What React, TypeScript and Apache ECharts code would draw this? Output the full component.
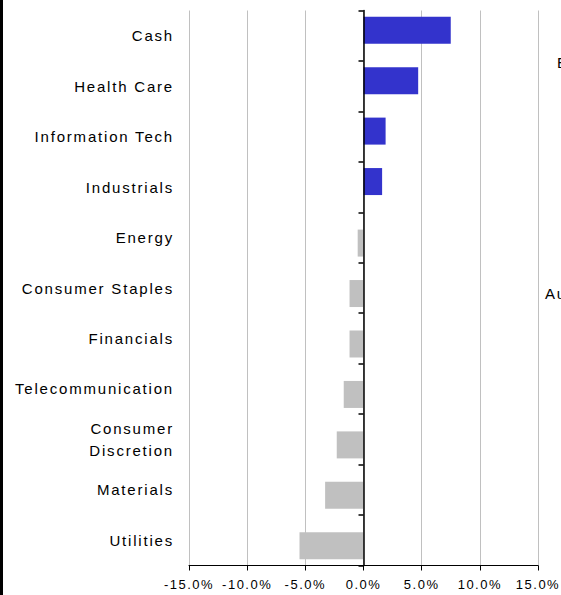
import React, { useEffect, useRef } from "react";
import * as echarts from "echarts";

const categories = [
  "Cash",
  "Health Care",
  "Information Tech",
  "Industrials",
  "Energy",
  "Consumer Staples",
  "Financials",
  "Telecommunication",
  "Consumer\nDiscretion",
  "Materials",
  "Utilities",
];
const overweight = [7.5, 4.7, 1.9, 1.6, null, null, null, null, null, null, null];
const underweight = [null, null, null, null, -0.5, -1.2, -1.2, -1.7, -2.3, -3.3, -5.5];
const xTicks = { min: -15, max: 15, interval: 5 };

export default function App() {
  const ref = useRef<HTMLDivElement>(null);
  useEffect(() => {
    if (!ref.current) return;
    const chart = echarts.init(ref.current, undefined, { renderer: "svg" });
    const font = "Liberation Sans, Arial, sans-serif";
    chart.setOption({
      animation: false,
      backgroundColor: "#ffffff",
      grid: { left: 189, right: 23, top: 10.5, bottom: 29.5, containLabel: false },
      xAxis: {
        type: "value",
        min: xTicks.min,
        max: xTicks.max,
        interval: xTicks.interval,
        axisLine: { show: true, onZero: false, lineStyle: { color: "#000", width: 1 } },
        axisTick: { show: true, length: 5, lineStyle: { color: "#000" } },
        splitLine: { show: true, lineStyle: { color: "#c0c0c0", width: 1 } },
        axisLabel: {
          margin: 12,
          color: "#000",
          fontSize: 13,
          fontFamily: font,
          formatter: (v: number) => v.toFixed(1) + "%",
        },
      },
      yAxis: [
        {
          type: "category",
          data: categories,
          inverse: true,
          position: "left",
          axisLine: { show: false, onZero: false },
          axisTick: { show: false },
          axisLabel: {
            margin: 15,
            color: "#000",
            fontSize: 15,
            lineHeight: 22,
            fontFamily: font,
            align: "right",
          },
        },
        {
          type: "category",
          data: categories,
          inverse: true,
          position: "left",
          z: 5,
          axisLine: { show: true, onZero: true, lineStyle: { color: "#000", width: 1.5 } },
          axisTick: { show: true, length: 5, lineStyle: { color: "#000", width: 1.5 } },
          axisLabel: { show: false },
        },
      ],
      series: [
        {
          type: "bar",
          name: "Overweight",
          data: overweight,
          barWidth: 27,
          barGap: "-59%",
          itemStyle: { color: "#3333cc" },
        },
        {
          type: "bar",
          name: "Underweight",
          data: underweight,
          barWidth: 27,
          barGap: "-59%",
          itemStyle: { color: "#c0c0c0" },
        },
      ],
      graphic: [
        { type: "rect", left: 0, top: 0, shape: { x: 0, y: 0, width: 3, height: 595 }, style: { fill: "#000" } },
        { type: "text", x: 557, y: 62, style: { text: "E", fontSize: 15, fontFamily: font, fill: "#000", verticalAlign: "middle" } },
        { type: "text", x: 545, y: 293, style: { text: "Au", fontSize: 15, fontFamily: font, fill: "#000", verticalAlign: "middle" } },
      ],
    });
    return () => chart.dispose();
  }, []);
  return (
    <>
      <style>{
        "#chartbox svg text { letter-spacing: 1.8px; } #chartbox svg text[text-anchor='middle'] { letter-spacing: 1.5px; }"
      }</style>
      <div
        id="chartbox"
        ref={ref}
        style={{ position: "absolute", left: 0, top: 0, width: 561, height: 595 }}
      />
    </>
  );
}
